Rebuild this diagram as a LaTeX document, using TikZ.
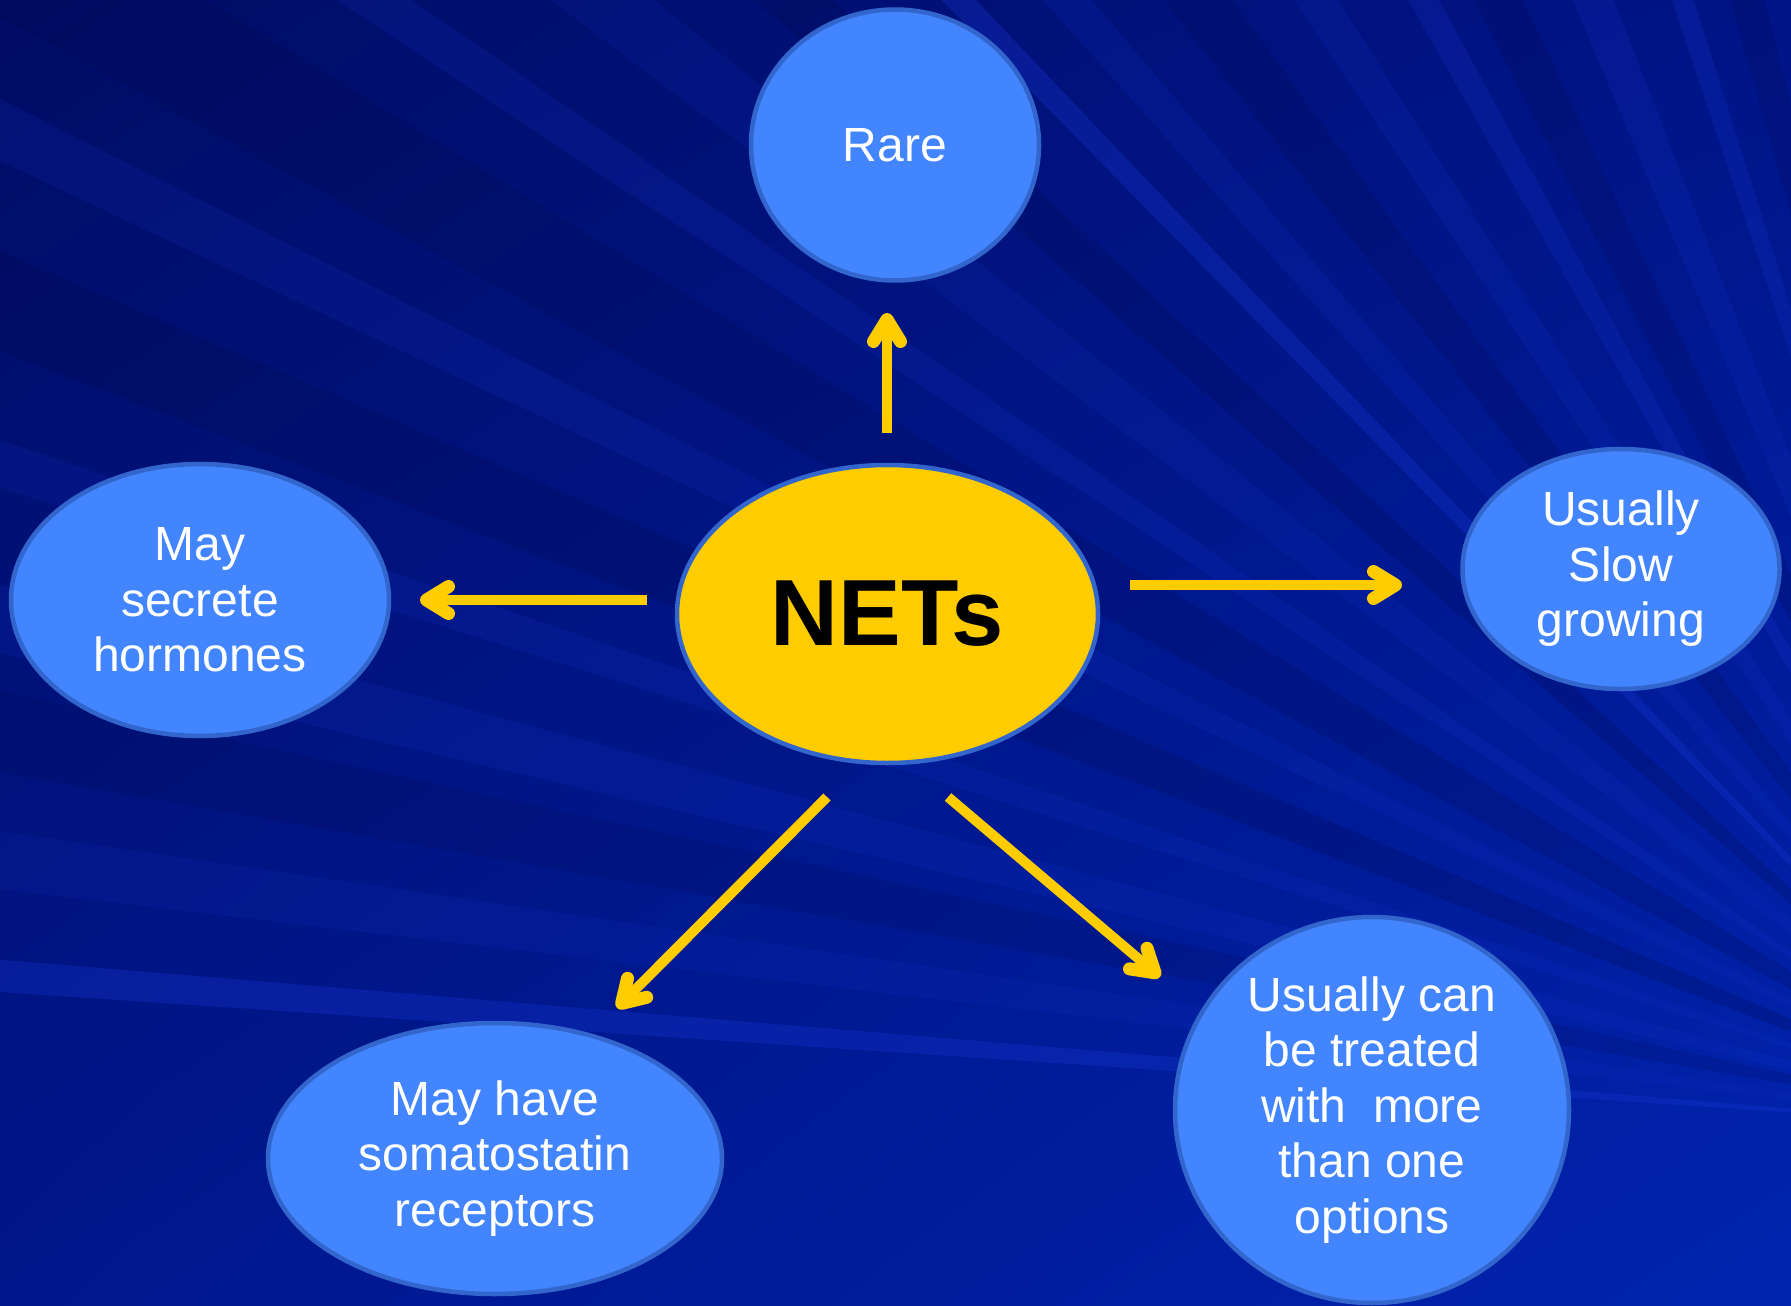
\documentclass[tikz,border=0pt]{standalone}
\usepackage{fontspec}
\setmainfont{Liberation Sans}
\usetikzlibrary{shapes.geometric,arrows.meta,shadings}
\definecolor{bgA}{RGB}{0,12,100}
\definecolor{bgB}{RGB}{0,20,135}
\definecolor{bgC}{RGB}{0,22,140}
\definecolor{bgD}{RGB}{0,36,175}
\definecolor{nodefill}{RGB}{66,133,255}
\definecolor{nodeline}{RGB}{51,102,204}
\definecolor{netsfill}{RGB}{255,204,0}
\definecolor{arrowc}{RGB}{255,204,0}
\definecolor{streakL}{RGB}{25,55,215}
\definecolor{streakD}{RGB}{0,6,70}
\tikzset{
  bubble/.style={ellipse, draw=nodeline, line width=4.5pt, fill=nodefill, text=white,
    font=\fontsize{48}{55.5}\selectfont, align=center, inner sep=0pt},
  netsbubble/.style={ellipse, draw=nodeline, line width=4.5pt, fill=netsfill, text=black,
    font=\fontsize{94}{100}\selectfont\bfseries, inner sep=0pt},
  arr/.style={draw=arrowc, line width=10pt,
    -{Straight Barb[round,length=22pt,width=27pt,line width=13pt]}}
}
\begin{document}
\begin{tikzpicture}[x=1pt,y=-1pt]
\useasboundingbox (0,0) rectangle (1791,1306);
% background
\shade[upper left=bgA, upper right=bgB, lower left=bgC, lower right=bgD] (0,0) rectangle (1791,1306);
\coordinate (O) at (2050,1130);
\foreach \a/\w/\c/\o in {4.3/0.9/streakL/0.3, 7.5/1.6/streakL/0.12, 11/2.2/streakD/0.15,
  14/1.8/streakL/0.15, 18/1.2/streakL/0.15, 22/2.4/streakD/0.2, 26/1.4/streakL/0.14,
  30/3.0/streakD/0.18, 34/1.2/streakL/0.16, 38/2.0/streakL/0.12, 42/1.8/streakD/0.2,
  46/0.9/streakL/0.3, 49/1.4/streakL/0.15, 53/2.2/streakD/0.18, 57/1.6/streakL/0.15,
  61/1.2/streakL/0.2, 64/2.0/streakD/0.18, 68/1.8/streakL/0.16, 72/1.0/streakL/0.22,
  75/1.6/streakD/0.18, 79/1.3/streakL/0.2, 83/1.6/streakL/0.16}
{
  \fill[\c, opacity=\o] (O) -- +(180+\a-\w/2:2800) -- +(180+\a+\w/2:2800) -- cycle;
}
% nodes
\node[bubble, minimum width=288pt, minimum height=271pt] (rare) at (895,145) {Rare};
\node[netsbubble, minimum width=421pt, minimum height=298pt] (nets) at (887.5,614) {NETs};
\node[bubble, minimum width=378pt, minimum height=272pt] (hormones) at (200,600) {May\\secrete\\hormones};
\node[bubble, minimum width=317pt, minimum height=240pt] (slow) at (1621,569) {Usually\\Slow\\growing};
\node[bubble, minimum width=454pt, minimum height=271pt] (somato) at (495,1158.5) {May have\\somatostatin\\receptors};
\node[bubble, minimum width=394pt, minimum height=386pt] (treated) at (1372,1110) {Usually can\\be treated\\with~ more\\than one\\options};
% arrow end points
\coordinate (upS) at (887,433);  \coordinate (upE) at (887,313);
\coordinate (lfS) at (647,600);  \coordinate (lfE) at (420,600);
\coordinate (rtS) at (1130,585); \coordinate (rtE) at (1402,585);
\coordinate (dlS) at (827,797);  \coordinate (dlE) at (617,1008);
\coordinate (drS) at (948,797);  \coordinate (drE) at (1160,977);
\draw[arr] (upS) -- (upE);
\draw[arr] (lfS) -- (lfE);
\draw[arr] (rtS) -- (rtE);
\draw[arr] (dlS) -- (dlE);
\draw[arr] (drS) -- (drE);
\end{tikzpicture}
\end{document}
